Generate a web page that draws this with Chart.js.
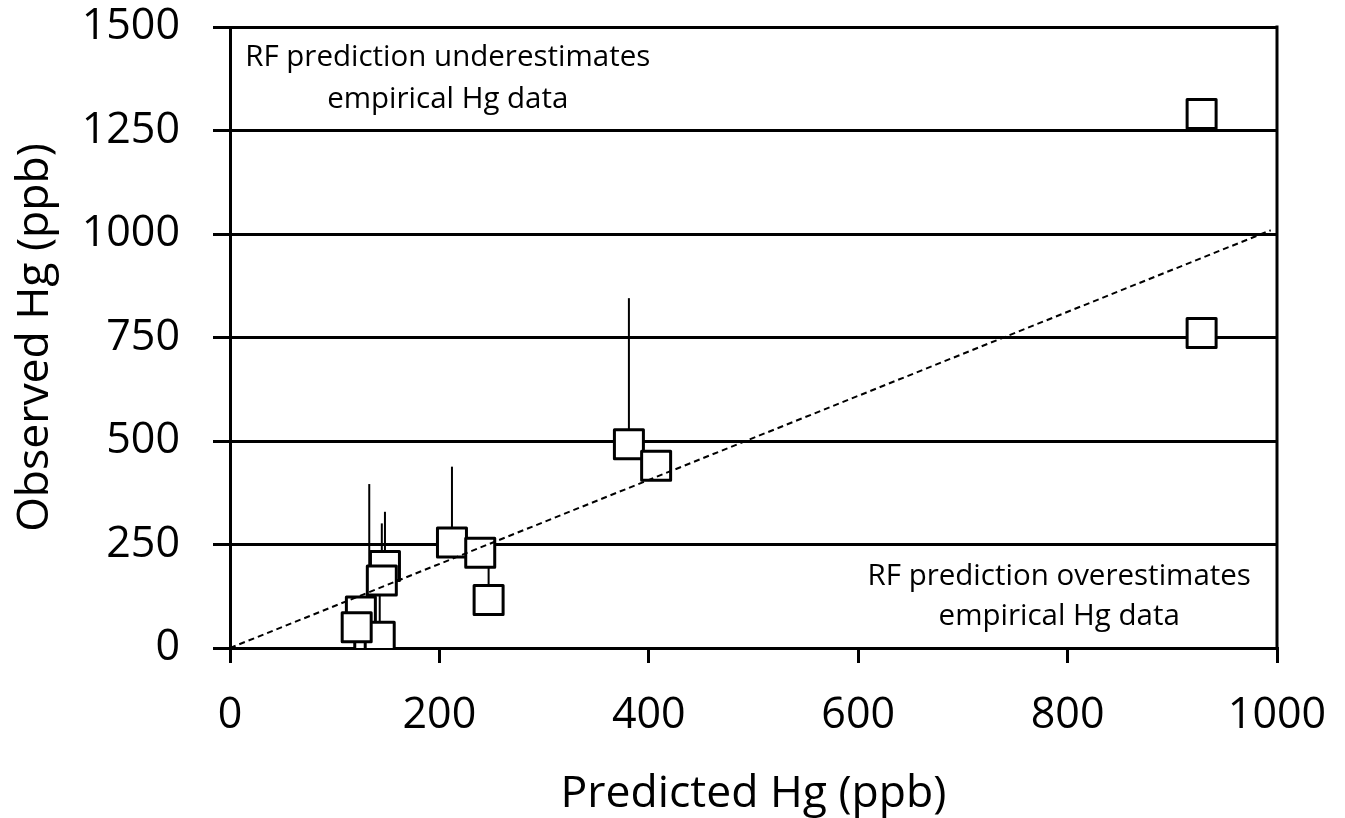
<!DOCTYPE html>
<html>
<head>
<meta charset="utf-8">
<script src="https://cdn.jsdelivr.net/npm/chart.js@4"></script>
<style>
  html, body { margin: 0; padding: 0; background: #fff; }
  #wrap { width: 1345px; height: 818px; position: relative; }
</style>
</head>
<body>
<div id="wrap"><canvas id="chart"></canvas></div>
<script>
// Observed vs predicted Hg (ppb)
const predicted = [928, 928, 381, 407, 212, 239, 247, 133, 148, 145, 125, 143, 121];
const observed  = [1290, 761, 492, 440, 255, 230, 116, 19, 198, 163, 88, 27, 50];
// upper end of each error bar (null = no bar)
const errTop    = [null, null, 845, null, 438, null, 195, 396, 329, 301, null, 170, null];
// 1:1 reference line
const refX = [0, 994];
const refY = [0, 1009];

const xTicks = [0, 200, 400, 600, 800, 1000];
const yTicks = [0, 250, 500, 750, 1000, 1250, 1500];

const notes = [
    { x: 208, y: 1426, text: 'RF prediction underestimates' },
    { x: 208, y: 1325, text: 'empirical Hg data' },
    { x: 792, y: 172, text: 'RF prediction overestimates' },
    { x: 792, y: 77, text: 'empirical Hg data' }
];

const FONT = "'Open Sans', sans-serif";
const INK = '#000';

const extras = {
    id: 'extras',
    beforeDatasetsDraw(chart) {
        const { ctx, scales: { x, y }, chartArea } = chart;
        ctx.save();
        // right frame line
        ctx.strokeStyle = INK;
        ctx.lineWidth = 3;
        ctx.beginPath();
        ctx.moveTo(chartArea.right, chartArea.top - 1.5);
        ctx.lineTo(chartArea.right, chartArea.bottom + 1.5);
        ctx.stroke();
        // plus error bars, under the markers
        ctx.lineWidth = 2;
        predicted.forEach((px, i) => {
            if (errTop[i] == null) return;
            ctx.beginPath();
            ctx.moveTo(x.getPixelForValue(px), y.getPixelForValue(observed[i]));
            ctx.lineTo(x.getPixelForValue(px), y.getPixelForValue(errTop[i]));
            ctx.stroke();
        });
        // notes
        ctx.fillStyle = INK;
        ctx.font = '29.5px ' + FONT;
        ctx.textAlign = 'center';
        ctx.textBaseline = 'middle';
        notes.forEach(n => ctx.fillText(n.text, x.getPixelForValue(n.x), y.getPixelForValue(n.y)));
        ctx.restore();
        ctx.lineJoin = 'round';
    }
};

const plain = v => String(v);

new Chart(document.getElementById('chart'), {
    type: 'scatter',
    data: {
        datasets: [{
            type: 'line',
            data: refX.map((v, i) => ({ x: v, y: refY[i] })),
            borderColor: INK,
            borderWidth: 2,
            borderDash: [6, 4],
            pointRadius: 0,
            fill: false
        }, {
            data: predicted.map((v, i) => ({ x: v, y: observed[i] })),
            pointStyle: 'rect',
            pointRadius: 20.5,
            pointBackgroundColor: '#fff',
            pointBorderColor: INK,
            pointBorderWidth: 3
        }]
    },
    options: {
        responsive: true,
        maintainAspectRatio: false,
        animation: false,
        layout: { padding: { top: 27, right: 68, left: 0, bottom: 0 } },
        plugins: { legend: { display: false }, tooltip: { enabled: false } },
        scales: {
            x: {
                type: 'linear', min: 0, max: 1000,
                afterBuildTicks: s => { s.ticks = xTicks.map(v => ({ value: v })); },
                afterFit: s => { s.height = 170; s.paddingLeft = 0; s.paddingRight = 0; },
                grid: { drawOnChartArea: false, drawTicks: true, tickLength: 15, color: INK, lineWidth: 3 },
                border: { display: true, color: INK, width: 3 },
                ticks: { color: INK, padding: 31, callback: plain, font: { family: FONT, size: 43, lineHeight: 1 } },
                title: { display: true, text: 'Predicted Hg (ppb)', color: INK, padding: { top: 0, bottom: 1 },
                         font: { family: FONT, size: 44.5, lineHeight: 1 } }
            },
            y: {
                type: 'linear', min: 0, max: 1500,
                afterBuildTicks: s => { s.ticks = yTicks.map(v => ({ value: v })); },
                afterFit: s => { s.width = 230; s.paddingTop = 0; s.paddingBottom = 0; },
                grid: { drawOnChartArea: true, drawTicks: true, tickLength: 17, color: INK, lineWidth: 3 },
                border: { display: true, color: INK, width: 3 },
                ticks: { color: INK, padding: 33, callback: plain, font: { family: FONT, size: 43, lineHeight: 1 } },
                title: { display: true, text: 'Observed Hg (ppb)', color: INK, padding: { top: 13, bottom: 0 },
                         font: { family: FONT, size: 44.5, lineHeight: 1 } }
            }
        }
    },
    plugins: [extras]
});
</script>
</body>
</html>
